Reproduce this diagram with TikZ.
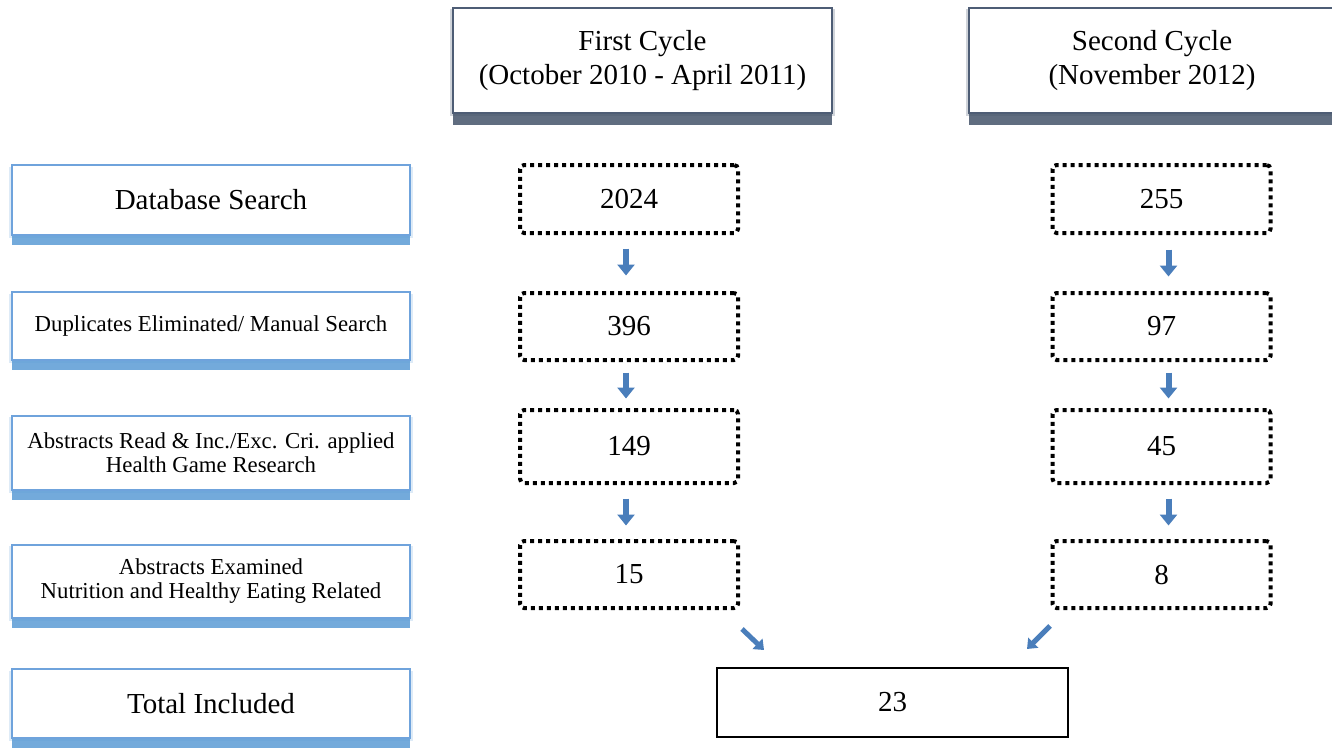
\documentclass[tikz,border=0pt]{standalone}
\usepackage{fontspec}
\setmainfont{Liberation Serif}
\usepackage{tikz}
\usetikzlibrary{arrows.meta,shadows}

\definecolor{slateframe}{HTML}{4E5D75}
\definecolor{slateshadow}{HTML}{44546A}
\definecolor{skyframe}{HTML}{6FA3DC}
\definecolor{skyshadow}{HTML}{5B9BD5}
\definecolor{arrowblue}{HTML}{4A7EBB}

\newcommand{\bigtext}{\fontsize{14.5}{17}\selectfont}
\newcommand{\smalltext}{\fontsize{11.4}{12}\selectfont}

\begin{document}
\begin{tikzpicture}[
  x=0.5pt, y=-0.5pt,
  cyclebox/.style={draw=slateframe, line width=1pt, fill=white, align=center, font=\bigtext,
    minimum height=52.5pt,
    drop shadow={shadow xshift=0pt, shadow yshift=-1pt, shadow scale=1.015, fill=slateshadow, opacity=0.25},
    drop shadow={shadow xshift=0pt, shadow yshift=-6pt, fill=slateshadow, opacity=0.85}},
  stepbox/.style={draw=skyframe, line width=1pt, fill=white, align=center, minimum width=199pt,
    drop shadow={shadow xshift=0pt, shadow yshift=-1pt, shadow scale=1.015, fill=skyshadow, opacity=0.2},
    drop shadow={shadow xshift=0pt, shadow yshift=-5pt, fill=skyshadow, opacity=0.85}},
  countbox/.style={draw, line width=2pt, dash pattern=on 2pt off 2pt, rounded corners=2pt,
    minimum width=109pt, font=\bigtext},
  totalbox/.style={draw, line width=0.8pt, minimum width=175.5pt, minimum height=34.5pt, font=\bigtext},
  flow/.style={arrowblue, line width=3pt, -{Triangle[length=5.5pt, width=8.5pt]}},
  flowtilt/.style={arrowblue, line width=2.5pt, -{Triangle[length=4.5pt, width=7pt]}}
]
  \useasboundingbox (0,0) rectangle (1332,749);

  % cycles
  \node[cyclebox, minimum width=189.5pt] (first) at (642.5,60.5) {First Cycle\\(October 2010 - April 2011)};
  \node[cyclebox, minimum width=183pt] (second) at (1152,60.5) {Second Cycle\\(November 2012)};

  % stages
  \node[stepbox, minimum height=35pt, font=\bigtext] (search) at (211,200) {Database Search};
  \node[stepbox, minimum height=34pt, font=\smalltext] (dupl) at (211,326) {Duplicates Eliminated/ Manual Search};
  \node[stepbox, minimum height=37pt, font=\smalltext] (read) at (211,453) {Abstracts Read \& Inc./Exc. Cri. applied\\Health Game Research};
  \node[stepbox, minimum height=36.5pt, font=\smalltext] (exam) at (211,581.5) {Abstracts Examined\\Nutrition and Healthy Eating Related};
  \node[stepbox, minimum height=34.5pt, font=\bigtext] (incl) at (211,703.5) {Total Included};

  % first cycle counts
  \node[countbox, minimum height=34pt] (f1) at (629,199) {2024};
  \node[countbox, minimum height=33.5pt] (f2) at (629,326.5) {396};
  \node[countbox, minimum height=36.5pt] (f3) at (629,446.5) {149};
  \node[countbox, minimum height=33.5pt] (f4) at (629,574.5) {15};

  % second cycle counts
  \node[countbox, minimum height=34pt] (s1) at (1161.5,199) {255};
  \node[countbox, minimum height=33.5pt] (s2) at (1161.5,326.5) {97};
  \node[countbox, minimum height=36.5pt] (s3) at (1161.5,446.5) {45};
  \node[countbox, minimum height=33.5pt] (s4) at (1161.5,574.5) {8};

  \node[totalbox] (sum) at (892.5,702.5) {23};

  \draw[flow, shorten <=6.75pt, shorten >=7.75pt] ([xshift=-1.5pt]f1.south) -- ([xshift=-1.5pt]f2.north);
  \draw[flow, shorten <=5.25pt, shorten >=4.75pt] ([xshift=-1.5pt]f2.south) -- ([xshift=-1.5pt]f3.north);
  \draw[flow, shorten <=6.75pt, shorten >=6.75pt] ([xshift=-1.5pt]f3.south) -- ([xshift=-1.5pt]f4.north);
  \draw[flow, shorten <=7.25pt, shorten >=7.25pt] ([xshift=3.5pt]s1.south) -- ([xshift=3.5pt]s2.north);
  \draw[flow, shorten <=5.25pt, shorten >=4.75pt] ([xshift=3.5pt]s2.south) -- ([xshift=3.5pt]s3.north);
  \draw[flow, shorten <=6.75pt, shorten >=6.75pt] ([xshift=3.5pt]s3.south) -- ([xshift=3.5pt]s4.north);

  % into the total
  \coordinate (leftin) at (742,629);
  \coordinate (leftout) at (764,650);
  \coordinate (rightin) at (1050,626);
  \coordinate (rightout) at (1027,649);
  \draw[flowtilt] (leftin) -- (leftout);
  \draw[flowtilt] (rightin) -- (rightout);

\end{tikzpicture}
\end{document}
